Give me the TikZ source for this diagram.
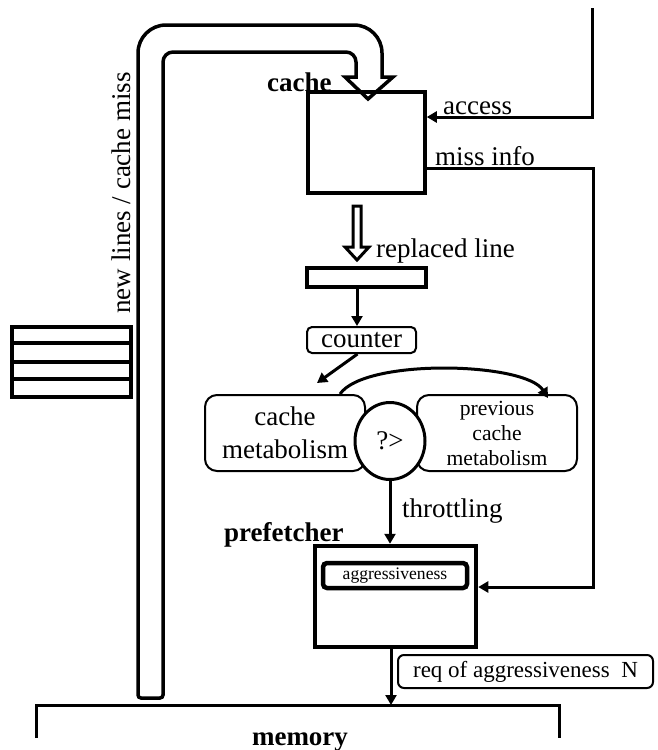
\documentclass[tikz,border=0pt]{standalone}
\usepackage{fontspec}
\setmainfont{Liberation Serif}
\usetikzlibrary{arrows.meta,shapes.geometric}

\begin{document}
\begin{tikzpicture}[x=1pt,y=-1pt,
	txt/.style={font=\fontsize{27}{33}\selectfont, inner sep=0pt},
	bold/.style={font=\fontsize{27}{33}\selectfont\bfseries, inner sep=0pt},
	box/.style={draw, line width=3.5pt, inner sep=0pt},
	rbox/.style={draw, line width=2pt, rounded corners=#1, inner sep=0pt, align=center},
	wire/.style={line width=3pt},
	arr/.style={line width=3pt, -{Triangle[length=10pt,width=11pt]}}]
	\useasboundingbox (0,0) rectangle (657,750);
	% blocks
	\node[box, minimum width=117pt, minimum height=101pt] (cache) at (366.5,142.5) {};
	\node[bold, anchor=base west] (cachelbl) at (267,91) {cache};
	\node[box, minimum width=119pt, minimum height=19pt] (buf) at (366.5,277.5) {};
	\node[rbox=5pt, txt, minimum width=109pt, minimum height=26pt] (counter) at (361.5,340) {counter};
	\node[rbox=12pt, txt, minimum width=160pt, minimum height=76pt] (cm) at (285,433) {cache\\metabolism};
	\node[rbox=12pt, font=\fontsize{21.6}{25}\selectfont, minimum width=160pt, minimum height=76pt] (pcm) at (497,433) {previous\\cache\\metabolism};
	\node[ellipse, draw, fill=white, line width=3pt, txt, minimum width=70pt, minimum height=77pt] (cmp) at (390,441) {?>};
	\node[box, line width=4.5pt, minimum width=161pt, minimum height=101pt] (pref) at (395.5,596.5) {};
	\node[rbox=4pt, line width=4.5pt, font=\fontsize{17.6}{20}\selectfont, minimum width=144pt, minimum height=25pt] (aggr) at (395,575.5) {aggressiveness};
	\node[bold, anchor=base west] (preflbl) at (224,541) {prefetcher};
	\node[rbox=6pt, font=\fontsize{23}{26}\selectfont, minimum width=255pt, minimum height=33pt] (req) at (525.5,671.5) {req of aggressiveness~ N};
	\node[bold, anchor=base] (mem) at (300,745) {memory};
	\draw[wire] (36,738) -- (36,705) -- (559,705) -- (559,738);
	% line stack
	\draw[box] (12,327) rectangle (131,397);
	\foreach \Y in {343,362,379}
		\draw[line width=3.5pt] (12,\Y) -- (131,\Y);
	% new lines pipe
	\draw[line width=3.5pt] (138,698) [rounded corners=28pt] -- (138,25) -- (382,25) [sharp corners] -- (382,77) -- (393,77) -- (368,99) -- (345,77) -- (356,77) [rounded corners=10pt] -- (356,52) -- (163,52) [rounded corners=3pt] -- (163,698) -- cycle;
	\node[txt, rotate=90] (pipelbl) at (121,193) {new lines / cache miss};
	% connectors
	\coordinate (acc) at (592,8);
	\coordinate (misscorner) at (593,587);
	\coordinate (memtop) at (391,705);
	\draw[arr] (acc) |- ([yshift=25.5pt]cache.east);
	\node[txt, anchor=base west] at (443,114) {access};
	\draw[arr] ([yshift=-25.5pt]cache.east) -| (misscorner) -- (misscorner -| pref.east);
	\node[txt, anchor=base west] at (435,165) {miss info};
	\draw[line width=3pt] (353,206) -- (353,247) -- (345,247) -- (357,260) -- (369,247) -- (361,247) -- (361,206) -- cycle;
	\node[txt, anchor=base west] at (376,257) {replaced line};
	\draw[arr] ([xshift=-9.5pt]buf.south) -- ([xshift=-4.5pt]counter.north);
	\draw[arr] ([xshift=-4pt]counter.south) -- ([xshift=32pt,yshift=11pt]cm.north);
	\draw[arr] ([xshift=55pt]cm.north) .. controls +(25,-36) and +(-23,-36) .. ([xshift=51pt,yshift=-4pt]pcm.north);
	\draw[arr] (cmp.south) -- (cmp.south |- pref.north);
	\node[txt, anchor=base west] at (402,517) {throttling};
	\draw[arr] ([xshift=-4.5pt]pref.south) -- (memtop);
\end{tikzpicture}
\end{document}
